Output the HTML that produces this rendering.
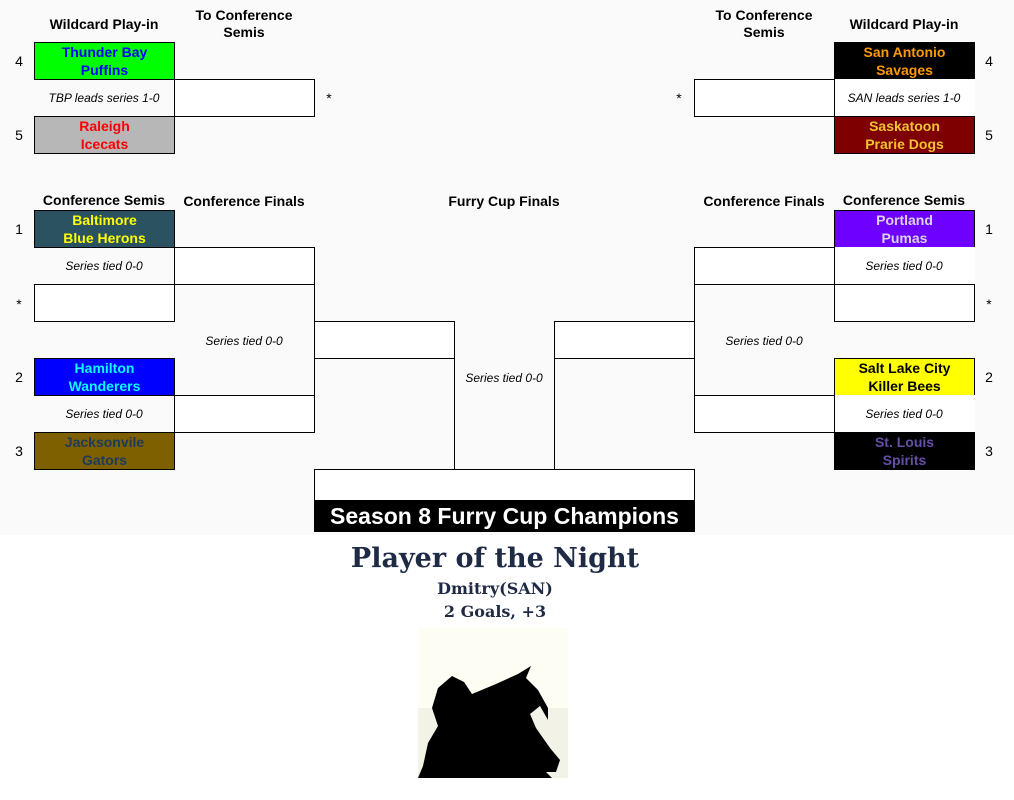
<!DOCTYPE html>
<html><head><meta charset="utf-8"><style>
*{box-sizing:border-box;margin:0;padding:0}
body{width:1014px;height:800px;background:#fff;position:relative;overflow:hidden;font-family:"Liberation Sans",Arial,sans-serif}
#bg{position:absolute;left:0;top:0;width:1014px;height:535px;background:#fafafa}
.a{position:absolute}
.b{position:absolute;border:1px solid #000;background:#fff}
.t{position:absolute;border:1px solid #000;width:141px;height:38px;font-weight:bold;font-size:14px;line-height:18px;text-align:center;padding-top:0px}
.h{position:absolute;font-weight:bold;font-size:14px;line-height:17px;text-align:center;width:160px;color:#000}
.s{position:absolute;font-style:italic;font-size:12px;text-align:center;width:140px;line-height:14px;color:#000}
.n{position:absolute;font-size:14px;width:20px;text-align:center}
.v{position:absolute;width:1px;background:#000}
</style></head><body>
<div id="bg"></div>
<div class="h" style="left:24px;top:16px">Wildcard Play-in</div>
<div class="h" style="left:164px;top:7px">To Conference<br>Semis</div>
<div class="h" style="left:684px;top:7px">To Conference<br>Semis</div>
<div class="h" style="left:824px;top:16px">Wildcard Play-in</div>
<div class="h" style="left:24px;top:192px">Conference Semis</div>
<div class="h" style="left:164px;top:193px">Conference Finals</div>
<div class="h" style="left:424px;top:193px">Furry Cup Finals</div>
<div class="h" style="left:684px;top:193px">Conference Finals</div>
<div class="h" style="left:824px;top:192px">Conference Semis</div>
<div class="t" style="left:34px;top:42px;background:#00ff00;color:#0000ff">Thunder Bay<br>Puffins</div>
<div class="s" style="left:34px;top:91px">TBP leads series 1-0</div>
<div class="t" style="left:34px;top:116px;background:#b7b7b7;color:#ff0000">Raleigh<br>Icecats</div>
<div class="b" style="left:174px;top:79px;width:141px;height:38px"></div>
<div class="n" style="left:9px;top:53px">4</div><div class="n" style="left:9px;top:127px">5</div>
<div class="n" style="left:319px;top:90px">*</div>
<div class="t" style="left:834px;top:42px;background:#000;color:#ff9900">San Antonio<br>Savages</div>
<div class="a" style="left:834px;top:79px;width:141px;height:38px;background:#fff"></div>
<div class="s" style="left:834px;top:91px">SAN leads series 1-0</div>
<div class="t" style="left:834px;top:116px;background:#7f0000;color:#f1c232">Saskatoon<br>Prarie Dogs</div>
<div class="b" style="left:694px;top:79px;width:141px;height:38px"></div>
<div class="n" style="left:979px;top:53px">4</div><div class="n" style="left:979px;top:127px">5</div>
<div class="n" style="left:669px;top:90px">*</div>
<div class="t" style="left:34px;top:210px;background:#2b5261;color:#ffff00">Baltimore<br>Blue Herons</div>
<div class="s" style="left:34px;top:259px">Series tied 0-0</div>
<div class="b" style="left:34px;top:284px;width:141px;height:38px"></div>
<div class="t" style="left:34px;top:358px;background:#0000ff;color:#00ffff">Hamilton<br>Wanderers</div>
<div class="s" style="left:34px;top:407px">Series tied 0-0</div>
<div class="t" style="left:34px;top:432px;background:#7f6000;color:#1c3b5a">Jacksonvile<br>Gators</div>
<div class="n" style="left:9px;top:221px">1</div><div class="n" style="left:9px;top:296px">*</div>
<div class="n" style="left:9px;top:369px">2</div><div class="n" style="left:9px;top:443px">3</div>
<div class="b" style="left:174px;top:247px;width:141px;height:38px"></div>
<div class="v" style="left:314px;top:284px;height:112px"></div>
<div class="b" style="left:174px;top:395px;width:141px;height:38px"></div>
<div class="s" style="left:174px;top:334px">Series tied 0-0</div>
<div class="b" style="left:314px;top:321px;width:141px;height:38px"></div>
<div class="v" style="left:454px;top:358px;height:112px"></div>
<div class="t" style="left:834px;top:210px;background:#6d00ff;color:#d9d2e9">Portland<br>Pumas</div>
<div class="a" style="left:834px;top:247px;width:141px;height:38px;background:#fff"></div>
<div class="s" style="left:834px;top:259px">Series tied 0-0</div>
<div class="b" style="left:834px;top:284px;width:141px;height:38px"></div>
<div class="t" style="left:834px;top:358px;background:#ffff00;color:#000">Salt Lake City<br>Killer Bees</div>
<div class="a" style="left:834px;top:395px;width:141px;height:38px;background:#fff"></div>
<div class="s" style="left:834px;top:407px">Series tied 0-0</div>
<div class="t" style="left:834px;top:432px;background:#000;color:#674ea7">St. Louis<br>Spirits</div>
<div class="n" style="left:979px;top:221px">1</div><div class="n" style="left:979px;top:296px">*</div>
<div class="n" style="left:979px;top:369px">2</div><div class="n" style="left:979px;top:443px">3</div>
<div class="b" style="left:694px;top:247px;width:141px;height:38px"></div>
<div class="v" style="left:694px;top:284px;height:112px"></div>
<div class="b" style="left:694px;top:395px;width:141px;height:38px"></div>
<div class="s" style="left:694px;top:334px">Series tied 0-0</div>
<div class="b" style="left:554px;top:321px;width:141px;height:38px"></div>
<div class="v" style="left:554px;top:358px;height:112px"></div>
<div class="s" style="left:434px;top:371px">Series tied 0-0</div>
<div class="b" style="left:314px;top:469px;width:381px;height:32px"></div>
<div class="a" style="left:314px;top:500px;width:381px;height:32px;background:#000;color:#fff;font-weight:bold;font-size:23px;line-height:32px;text-align:center">Season 8 Furry Cup Champions</div>
<div class="a" style="left:0;top:541px;width:990px;text-align:center;font-family:'DejaVu Serif',serif;font-weight:bold;color:#1f2a44">
<div style="font-size:27px;line-height:36px">Player of the Night</div>
<div style="font-size:16px;line-height:24px">Dmitry(SAN)</div>
<div style="font-size:16px;line-height:22px">2 Goals, +3</div>
</div>
<svg class="a" style="left:418px;top:628px" width="150" height="150" viewBox="0 0 150 150">
<rect width="150" height="150" fill="#fdfdf3"/>
<rect y="80" width="150" height="70" fill="#f2f3e6"/>
<path d="M0,150 L5,138 L10,115 L20,98 L14,80 L20,60 L34,48 L46,54 L54,66 L78,56 L100,46 L113,38 L108,50 L120,62 L130,80 L130,92 L122,78 L112,86 L118,100 L132,120 L142,132 L138,144 L128,144 L134,150 Z" fill="#000"/>
</svg>
</body></html>
